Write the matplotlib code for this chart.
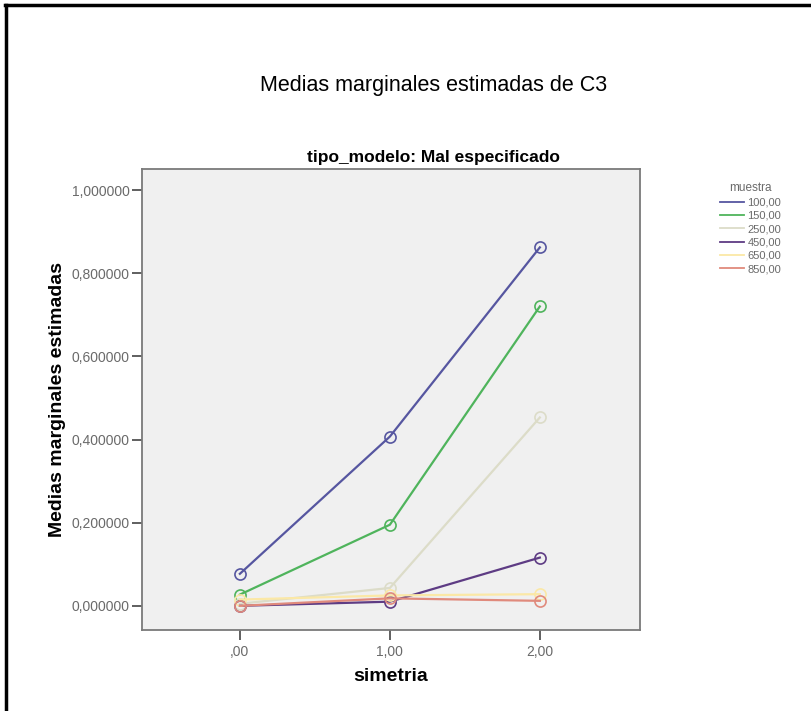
import numpy as np
import matplotlib.pyplot as plt
from matplotlib.lines import Line2D

# medias marginales estimadas de C3, tipo_modelo = Mal especificado
simetria = [0.0, 1.0, 2.0]
simetria_labels = [",00", "1,00", "2,00"]
muestras = ["100,00", "150,00", "250,00", "450,00", "650,00", "850,00"]
m100 = [0.077, 0.407, 0.862]
m150 = [0.027, 0.195, 0.720]
m250 = [0.005, 0.043, 0.453]
m450 = [0.000, 0.010, 0.116]
m650 = [0.015, 0.025, 0.028]
m850 = [0.000, 0.018, 0.012]
yticks = [0.0, 0.2, 0.4, 0.6, 0.8, 1.0]

series = [m100, m150, m250, m450, m650, m850]
colores = ["#5656a0", "#4fb45c", "#dcdcc8", "#5e3c84", "#fbe8a6", "#e08a7c"]
GRIS = "#6a6a6a"

plt.rcParams["font.family"] = ["Liberation Sans", "DejaVu Sans"]
fig = plt.figure(figsize=(8.11, 7.11), dpi=100)
fig.patch.set_facecolor("white")
ax = fig.add_axes([0.175, 0.114, 0.614, 0.648])
ax.set_facecolor("#f0f0f0")

for vals, col in zip(series, colores):
    ax.plot(simetria, vals, color=col, lw=1.6, marker="o", ms=8,
            mfc="none", mec=col, mew=1.2, zorder=3)

ax.set_xlim(-0.653, 2.667)
ax.set_ylim(-0.058, 1.050)
ax.set_xticks(simetria)
ax.set_xticklabels(simetria_labels)
ax.set_yticks(yticks)
ax.set_yticklabels([f"{v:.6f}".replace(".", ",") for v in yticks])
ax.tick_params(direction="out", length=7, width=1.2, color="#444444",
               labelsize=10, labelcolor=GRIS, pad=2)
ax.tick_params(axis="x", pad=4)
for s in ax.spines.values():
    s.set_color("#7a7a7a")
    s.set_linewidth(1.3)

ax.set_xlabel("simetria", fontsize=14, fontweight="bold", va="center")
ax.xaxis.set_label_coords(0.5, -0.102)
ax.set_ylabel("Medias marginales estimadas", fontsize=14, fontweight="bold", va="center")
ax.yaxis.set_label_coords(-0.169, 0.5)

fig.text(0.534, 0.880, "Medias marginales estimadas de C3", ha="center", va="center",
         fontsize=15.5)
fig.text(0.534, 0.779, "tipo_modelo: Mal especificado", ha="center", va="center",
         fontsize=12.5, fontweight="bold")

# leyenda a mano, estilo SPSS
handles = [Line2D([], [], color=c, lw=1.3) for c in colores]
leg = fig.legend(handles, muestras, title="muestra", loc="upper left",
                 bbox_to_anchor=(0.875, 0.758), frameon=False, fontsize=8,
                 title_fontsize=8.5, handlelength=2.2, handletextpad=0.3,
                 labelspacing=0.3, labelcolor=GRIS)
leg.get_title().set_color(GRIS)

# marco exterior (arriba e izquierda)
fig.add_artist(Line2D([0.006, 1.0], [0.993, 0.993], transform=fig.transFigure,
                      color="black", lw=2.5))
fig.add_artist(Line2D([0.007, 0.007], [0.0, 0.993], transform=fig.transFigure,
                      color="black", lw=2.5))

fig.savefig("out.png", dpi=100)
